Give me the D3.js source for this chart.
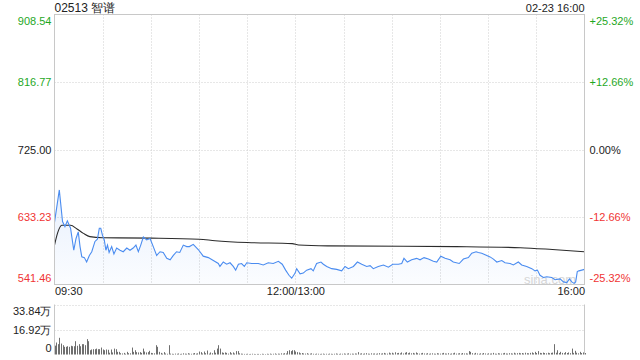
<!DOCTYPE html>
<html>
<head>
<meta charset="utf-8">
<script src="https://cdn.jsdelivr.net/npm/d3@7"></script>
<style>
body { margin: 0; background: #fff; }
text { font-family: "Liberation Sans", Arial, sans-serif; }
</style>
</head>
<body>
<svg id="chart" width="640" height="360"></svg>
<script>
var title = "02513 智谱";
var stamp = "02-23 16:00";
var prevClose = 725.00;
var priceTicks = [541.46, 633.23, 725.00, 816.77, 908.54];
var pctLabels = ["-25.32%", "-12.66%", "0.00%", "+12.66%", "+25.32%"];
var timeTicks = [0, 150, 330];
var timeLabels = ["09:30", "12:00/13:00", "16:00"];
var volTicks = [0, 16.92, 33.84];
var volLabels = ["0", "16.92万", "33.84万"];

// minutes since 09:30 (lunch removed), price
var priceMinutes = [0, 3, 5, 6.5, 8, 10, 12, 13.4, 14.8, 15.9, 17, 18.6, 20, 21.7, 23.2, 25.2, 26.7, 27.9, 28.8, 29.8,
  31, 32, 33, 34, 35.6, 37, 38.7, 40.8, 42.8, 45, 47, 49, 50.7, 52.2, 53.7, 55.3, 57.4, 59.5, 61.5, 63.6,
  65.7, 67.7, 69.9, 72, 74, 76, 78, 80.2, 82.3, 84, 86.4, 89.5, 92.6, 95.8, 98.9, 102, 103, 105.1, 107.2, 109.3,
  111.3, 112.8, 114.5, 116.5, 118.2, 119.7, 122.8, 126.9, 130, 133.1, 136.2, 139.4, 141.8, 143.9, 146, 147.7, 149.8, 150.8, 152.9, 154.9,
  157, 159.7, 161.1, 163.2, 165.9, 167.4, 169.5, 172.6, 175.7, 178.8, 180.9, 183, 186.1, 188.6, 191.3, 194.4, 196.5, 198.5, 201.6, 204.8,
  207.9, 210.6, 214.1, 216.2, 217.6, 219.7, 222.4, 225.5, 227.6, 230.1, 232.8, 235.9, 238, 240.5, 243.2, 246.3, 248.3, 252, 254.6, 257.7,
  259.8, 262.5, 263.9, 266, 268.1, 271.2, 273.3, 275.4, 278.5, 280.5, 283.7, 285.7, 288.8, 290.9, 294, 297.2, 299.2, 300.7, 302.3, 304.4,
  306.5, 309.6, 311.7, 314.8, 316.9, 319, 320.6, 322.1, 323.5, 324.5, 325.5, 326.5, 328.3, 330];
var priceValues = [626, 670, 627, 620, 628, 618, 588, 604, 613, 593, 579, 578, 572, 581, 586, 600, 603, 618, 618, 609,
  602, 588, 595, 585, 593, 583, 591, 588, 586, 591, 588, 591, 595, 586, 595, 606, 602, 604, 593, 581,
  586, 585, 577, 575, 581, 586, 585, 595, 593, 593, 596, 589, 580, 578, 574, 570, 566, 572, 569, 571,
  566, 561, 569, 570, 566, 571, 570, 570, 568, 571, 570, 573, 569, 561, 554, 550, 557, 563, 556, 557,
  561, 563, 560, 570, 572, 569, 566, 563, 562, 560, 566, 563, 566, 572, 569, 566, 567, 563, 566, 568,
  565, 569, 569, 570, 577, 572, 575, 577, 575, 578, 576, 573, 572, 580, 577, 575, 572, 570, 576, 578,
  584, 586, 585, 584, 582, 579, 576, 572, 574, 571, 570, 568, 572, 568, 566, 563, 560, 561, 554, 551,
  552, 551, 548, 549, 545, 544, 549, 545, 543, 545, 559, 560, 561, 562];

var avgMinutes = [0, 2, 4.5, 10, 14, 18, 22, 30, 60, 90, 100, 120, 148, 152, 170, 250, 290, 310, 330];
var avgValues = [595, 612, 622, 622, 617, 611, 606.5, 605, 604.5, 603, 601, 598.5, 597, 595.2, 594, 593, 591.5, 589, 586];

// volume per minute, in 万
var volumes = [6, 8.1, 7, 11.3, 7.4, 6.3, 5.2, 5.2, 5.6, 5.2,
  5.9, 5.6, 5.6, 9, 5.9, 7, 5.6, 7, 7, 6.3,
  10.4, 9, 2.9, 3.4, 3.6, 3.6, 4, 3.6, 3.6, 4.7,
  3.4, 2.9, 3.4, 3.2, 1.2, 3.4, 1.4, 4, 3.6, 1.8,
  1.8, 0.9, 0.7, 1.1, 0.5, 1.8, 0.9, 0.8, 4.7, 1.8,
  2.9, 1.6, 1.4, 1.6, 1.1, 4, 2, 1.4, 1.6, 2.5,
  1.1, 0.9, 0.8, 6.3, 5.2, 1.8, 1.1, 0.6, 1.6, 0.7,
  0.5, 6.3, 0.6, 0.5, 0.4, 0.6, 0.5, 0.7, 0.4, 0.5,
  0.8, 0.6, 0.5, 0.9, 0.6, 0.5, 0.7, 1, 0.6, 0.8,
  2, 1.6, 0.7, 2, 0.9, 2.7, 0.6, 1.4, 0.9, 2.9,
  1.2, 4, 6.3, 4, 1.4, 1.1, 1.4, 1.1, 0.6, 1.6,
  0.8, 1.4, 0.7, 2.3, 2.3, 0.8, 0.6, 0.5, 0.4, 0.4,
  0.5, 0.3, 0.4, 0.5, 0.4, 0.3, 0.4, 0.4, 0.3, 0.5,
  0.4, 0.3, 0.5, 0.4, 0.6, 0.4, 0.5, 0.7, 0.4, 0.6,
  0.5, 0.8, 0.6, 0.9, 0.7, 2.3, 2.9, 2.3, 2.9, 2.9,
  2, 1.6, 1.4, 0.8, 1, 0.7, 0.6, 0.9, 0.5, 0.6,
  0.8, 0.5, 0.4, 0.6, 0.5, 0.4, 0.5, 0.6, 0.4, 0.5,
  0.4, 0.6, 0.5, 0.4, 0.5, 0.7, 0.5, 0.4, 0.6, 0.5,
  0.7, 0.5, 0.6, 0.8, 0.5, 0.6, 0.5, 0.7, 0.6, 1.6,
  0.6, 0.8, 0.5, 0.7, 0.9, 0.6, 0.5, 0.8, 0.6, 0.7,
  0.5, 0.7, 0.9, 0.6, 0.8, 1.1, 0.7, 0.6, 1.3, 0.8,
  1.2, 0.7, 1.5, 0.9, 1.1, 0.8, 1.4, 0.7, 1.2, 1.6,
  0.9, 1.3, 0.8, 1.1, 0.7, 1.4, 0.9, 0.6, 0.8, 1.1,
  0.7, 0.6, 0.9, 0.5, 0.7, 0.8, 0.6, 0.5, 0.9, 0.7,
  0.6, 0.8, 1.1, 0.7, 0.6, 0.9, 0.5, 0.7, 0.8, 1.2,
  0.6, 0.7, 0.9, 0.6, 1, 0.7, 0.8, 0.6, 2.3, 1.8,
  0.9, 0.6, 1.1, 0.7, 0.5, 0.8, 0.6, 1, 0.7, 0.5,
  0.8, 0.6, 0.7, 1.1, 0.6, 0.5, 0.9, 0.7, 0.6, 0.8,
  1.1, 0.7, 0.6, 0.9, 0.8, 0.6, 1.2, 0.7, 0.9, 1.1,
  0.8, 1, 0.7, 1.2, 0.9, 0.8, 1.1, 1.4, 0.9, 1.8,
  1, 2.3, 1.1, 0.9, 1.3, 1, 0.8, 1.2, 0.9, 1.1,
  1.3, 7, 1.2, 2.9, 1, 1.8, 1.1, 0.9, 1.6, 1,
  1.4, 0.9, 4, 1.1, 2.5, 1.2, 0.8, 1.8, 1, 1.4,
  1];

var green = "#1fa81f", red = "#f03434", grid = "#cfcfcf", border = "#c8c8c8";
var plotLeft = 54.5, plotRight = 584.5, plotTop = 14.5, plotBottom = 284.5;
var volTop = 304.5, volBottom = 354.5;

var svg = d3.select("#chart");

var x = d3.scaleLinear().domain([0, 330]).range([plotLeft, plotRight]);
var y = d3.scaleLinear().domain([priceTicks[0], priceTicks[4]]).range([plotBottom, plotTop]);
var yv = d3.scaleLinear().domain([0, volTicks[2]]).range([volBottom, volTop]);

function tickColor(v) {
  if (Math.abs(v - prevClose) < 0.001) return "#222";
  return v > prevClose ? green : red;
}

// vertical grid every 30 minutes
svg.append("g").selectAll("line")
  .data(d3.range(30, 330, 30))
  .enter().append("line")
  .attr("x1", function(d) { return Math.round(x(d)) + 0.5; })
  .attr("x2", function(d) { return Math.round(x(d)) + 0.5; })
  .attr("y1", plotTop).attr("y2", plotBottom)
  .attr("stroke", grid).attr("stroke-dasharray", "1,2");

// horizontal price grid
svg.append("g").selectAll("line")
  .data(priceTicks.slice(1, 4))
  .enter().append("line")
  .attr("x1", plotLeft).attr("x2", plotRight)
  .attr("y1", function(d) { return Math.round(y(d)) + 0.5; })
  .attr("y2", function(d) { return Math.round(y(d)) + 0.5; })
  .attr("stroke", grid).attr("stroke-dasharray", "1,2");

// area under price line
var defs = svg.append("defs");
var grad = defs.append("linearGradient").attr("id", "fillGrad")
  .attr("x1", 0).attr("y1", 0).attr("x2", 0).attr("y2", 1);
grad.append("stop").attr("offset", "0%").attr("stop-color", "#3d86f2").attr("stop-opacity", 0.12);
grad.append("stop").attr("offset", "100%").attr("stop-color", "#3d86f2").attr("stop-opacity", 0.02);

var pts = priceMinutes.map(function(m, i) { return [m, priceValues[i]]; });
var area = d3.area()
  .x(function(d) { return x(d[0]); })
  .y0(plotBottom)
  .y1(function(d) { return y(d[1]); });
svg.append("path").datum(pts).attr("d", area).attr("fill", "url(#fillGrad)");

// watermark
svg.append("text").attr("x", 576).attr("y", 284).attr("text-anchor", "end")
  .attr("font-size", 13).attr("fill", "#d6d6d6").text("sina.com");

// average line
var avgPts = avgMinutes.map(function(m, i) { return [m, avgValues[i]]; });
var avgLine = d3.line()
  .x(function(d) { return x(d[0]); })
  .y(function(d) { return y(d[1]); })
  .curve(d3.curveMonotoneX);
svg.append("path").datum(avgPts).attr("d", avgLine)
  .attr("fill", "none").attr("stroke", "#2b2b2b").attr("stroke-width", 1.1);

// price line
var priceLine = d3.line()
  .x(function(d) { return x(d[0]); })
  .y(function(d) { return y(d[1]); });
svg.append("path").datum(pts).attr("d", priceLine)
  .attr("fill", "none").attr("stroke", "#4a8cf0").attr("stroke-width", 1.1);

// price panel border
svg.append("rect").attr("x", plotLeft).attr("y", plotTop)
  .attr("width", plotRight - plotLeft).attr("height", plotBottom - plotTop)
  .attr("fill", "none").attr("stroke", border);

function edgeDy(d, i, n) {
  return i == n - 1 ? "0.95em" : (i == 0 ? "-0.25em" : "0.32em");
}

// left price axis
var leftAxis = svg.append("g").attr("transform", "translate(" + (plotLeft - 3) + ",0)")
  .call(d3.axisLeft(y).tickValues(priceTicks).tickSize(0).tickPadding(0)
    .tickFormat(function(d) { return d.toFixed(2); }));
leftAxis.select(".domain").remove();
leftAxis.selectAll("text")
  .attr("font-size", 11)
  .attr("fill", function(d) { return tickColor(d); })
  .attr("dy", function(d, i) { return edgeDy(d, i, 5); });

// right percent axis
var rightAxis = svg.append("g").attr("transform", "translate(" + (plotRight + 5) + ",0)")
  .call(d3.axisRight(y).tickValues(priceTicks).tickSize(0).tickPadding(0)
    .tickFormat(function(d, i) { return pctLabels[i]; }));
rightAxis.select(".domain").remove();
rightAxis.selectAll("text")
  .attr("font-size", 11)
  .attr("fill", function(d) { return tickColor(d); })
  .attr("dy", function(d, i) { return edgeDy(d, i, 5); });

// time axis
var timeAxis = svg.append("g").attr("transform", "translate(0," + (plotBottom + 3) + ")")
  .call(d3.axisBottom(x).tickValues(timeTicks).tickSize(0).tickPadding(0)
    .tickFormat(function(d, i) { return timeLabels[i]; }));
timeAxis.select(".domain").remove();
timeAxis.selectAll("text")
  .attr("font-size", 11).attr("fill", "#222")
  .attr("text-anchor", function(d, i) { return i == 0 ? "start" : (i == 2 ? "end" : "middle"); });

// volume grid
svg.append("g").selectAll("line")
  .data(volTicks.slice(1))
  .enter().append("line")
  .attr("x1", plotLeft).attr("x2", plotRight)
  .attr("y1", function(d) { return Math.round(yv(d)) + 0.5; })
  .attr("y2", function(d) { return Math.round(yv(d)) + 0.5; })
  .attr("stroke", grid).attr("stroke-dasharray", "1,2");

// volume bars
svg.append("g").selectAll("rect")
  .data(volumes)
  .enter().append("rect")
  .attr("x", function(d, i) { return Math.round(x(i)); })
  .attr("width", 1)
  .attr("y", function(d) { return yv(d); })
  .attr("height", function(d) { return volBottom - yv(d); })
  .attr("fill", "#6f6f6f");

svg.append("line").attr("x1", plotLeft).attr("x2", plotLeft).attr("y1", volTop).attr("y2", volBottom)
  .attr("stroke", border);
svg.append("line").attr("x1", plotRight).attr("x2", plotRight).attr("y1", volTop).attr("y2", volBottom)
  .attr("stroke", border);

// volume axis
var volAxis = svg.append("g").attr("transform", "translate(" + (plotLeft - 3) + ",0)")
  .call(d3.axisLeft(yv).tickValues(volTicks).tickSize(0).tickPadding(0)
    .tickFormat(function(d, i) { return volLabels[i]; }));
volAxis.select(".domain").remove();
volAxis.selectAll("text")
  .attr("font-size", 11).attr("fill", "#222")
  .attr("dy", function(d, i) { return edgeDy(d, i, 3); });

// header
svg.append("text").attr("x", plotLeft).attr("y", 11.5)
  .attr("font-size", 12).attr("fill", "#222").text(title);
svg.append("text").attr("x", plotRight).attr("y", 11.5).attr("text-anchor", "end")
  .attr("font-size", 11).attr("fill", "#222").text(stamp);
</script>
</body>
</html>
